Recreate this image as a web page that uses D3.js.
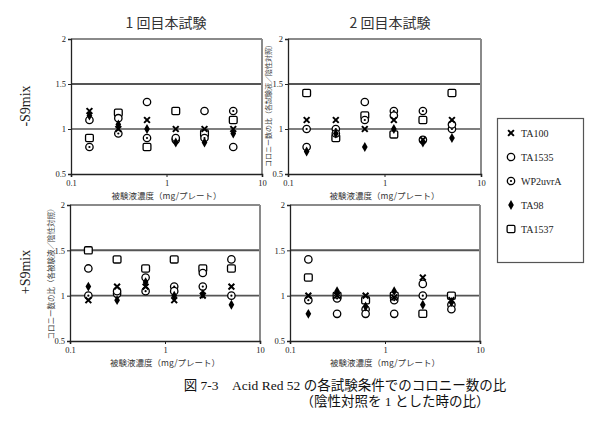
<!DOCTYPE html>
<html><head><meta charset="utf-8">
<script src="https://cdn.jsdelivr.net/npm/d3@7"></script>
<style>body{margin:0;background:#fff}svg{display:block}</style>
</head><body><svg id="c" width="600" height="425"></svg>
<script>
// ---- data ----
const doses = [0.156, 0.313, 0.625, 1.25, 2.5, 5];
const strains = ["TA100", "TA1535", "WP2uvrA", "TA98", "TA1537"];
const xTicks = [0.1, 1, 10];
const xTickLabels = ["0.1", "1", "10"];
const yTicks = [0.5, 1, 1.5, 2];
const yTickLabels = ["0.5", "1", "1.5", "2"];
const colTitles = ["1 回目本試験", "2 回目本試験"];
const rowTitles = ["-S9mix", "+S9mix"];
const xTitle = "被験液濃度（mg/プレート）";
const yTitleTop = "コロニー数の比（各試験液／陰性対照）";
const yTitleBottom = "コロニー数の比（各被験液／陰性対照）";
const captionLine1 = "図 7-3　Acid Red 52 の各試験条件でのコロニー数の比";
const captionLine2 = "（陰性対照を 1 とした時の比）";

// rows follow `strains` order: TA100, TA1535, WP2uvrA, TA98, TA1537
const minusS9Run1 = [
  [1.2, 1.0, 1.1, 1.0, 1.0, 1.0],
  [1.1, 1.12, 1.3, 0.9, 1.2, 0.8],
  [0.8, 0.95, 0.9, 0.88, 0.9, 1.2],
  [1.15, 1.05, 1.0, 0.85, 0.85, 0.95],
  [0.9, 1.18, 0.8, 1.2, 0.95, 1.1]
];
const minusS9Run2 = [
  [1.1, 1.1, 1.0, 1.1, 0.88, 1.1],
  [0.8, 0.95, 1.3, 1.15, 0.88, 1.05],
  [1.0, 1.0, 1.1, 1.2, 1.2, 1.0],
  [0.75, 0.95, 0.8, 1.0, 0.85, 0.9],
  [1.4, 0.9, 1.15, 0.94, 1.1, 1.4]
];
const plusS9Run1 = [
  [0.95, 1.1, 1.1, 0.95, 1.0, 1.1],
  [1.3, 1.05, 1.2, 1.05, 1.25, 1.4],
  [1.0, 1.02, 1.05, 1.1, 1.1, 1.0],
  [1.1, 0.95, 1.15, 1.0, 1.02, 0.9],
  [1.5, 1.4, 1.3, 1.4, 1.3, 1.3]
];
const plusS9Run2 = [
  [1.0, 1.0, 1.0, 0.98, 1.2, 0.95],
  [1.4, 0.8, 0.8, 0.8, 1.13, 0.85],
  [0.95, 0.97, 0.85, 0.95, 1.0, 0.9],
  [0.8, 1.05, 0.88, 1.05, 0.9, 0.93],
  [1.2, 1.0, 0.95, 1.0, 0.8, 1.0]
];

// ---- layout ----
const FONT = "'Liberation Serif','Noto Sans CJK JP',serif";
const CJK = "'Noto Sans CJK JP','Liberation Serif',sans-serif";
const svg = d3.select("#c");

const panels = [
  {data: minusS9Run1, x0: 71, x1: 262, y0: 39, y1: 174},
  {data: minusS9Run2, x0: 288, x1: 481, y0: 39, y1: 174},
  {data: plusS9Run1, x0: 70, x1: 260, y0: 205, y1: 341},
  {data: plusS9Run2, x0: 290, x1: 480, y0: 205, y1: 341}
];

function drawMarker(g, strain, cx, cy) {
  if (strain === "TA100") {
    const s = 2.9;
    g.append("path").attr("d", `M${cx-s},${cy-s}L${cx+s},${cy+s}M${cx-s},${cy+s}L${cx+s},${cy-s}`)
      .attr("stroke", "#000").attr("stroke-width", 2).attr("fill", "none");
  } else if (strain === "TA1535") {
    g.append("circle").attr("cx", cx).attr("cy", cy).attr("r", 3.7)
      .attr("fill", "#fff").attr("stroke", "#000").attr("stroke-width", 1.3);
  } else if (strain === "WP2uvrA") {
    g.append("circle").attr("cx", cx).attr("cy", cy).attr("r", 3.7)
      .attr("fill", "#fff").attr("stroke", "#000").attr("stroke-width", 1.3);
    g.append("circle").attr("cx", cx).attr("cy", cy).attr("r", 1.1).attr("fill", "#000");
  } else if (strain === "TA98") {
    g.append("path").attr("transform", `translate(${cx},${cy})`)
      .attr("d", d3.symbol(d3.symbolDiamond, 28)()).attr("fill", "#000");
  } else {
    g.append("rect").attr("x", cx - 3.9).attr("y", cy - 3.6).attr("width", 7.8).attr("height", 7.2)
      .attr("rx", 1.3).attr("fill", "#fff").attr("stroke", "#000").attr("stroke-width", 1.3);
  }
}

const drawOrder = ["TA1537", "WP2uvrA", "TA1535", "TA98", "TA100"];

panels.forEach(p => {
  const x = d3.scaleLog().domain([0.1, 10]).range([p.x0, p.x1]);
  const y = d3.scaleLinear().domain([0.5, 2]).range([p.y1, p.y0]);
  const g = svg.append("g");

  [1, 1.5].forEach(v => {
    g.append("line").attr("x1", p.x0).attr("x2", p.x1).attr("y1", y(v)).attr("y2", y(v))
      .attr("stroke", "#555").attr("stroke-width", v === 1.5 ? 2 : 1.6);
  });
  g.append("line").attr("x1", p.x0).attr("x2", p.x1).attr("y1", p.y0).attr("y2", p.y0)
    .attr("stroke", "#8a8a8a").attr("stroke-width", 2);
  g.append("line").attr("x1", p.x1).attr("x2", p.x1).attr("y1", p.y0).attr("y2", p.y1)
    .attr("stroke", "#8a8a8a").attr("stroke-width", 2);

  const yAxis = d3.axisLeft(y).tickValues(yTicks).tickFormat((d, i) => yTickLabels[i]).tickSize(3).tickPadding(2);
  const ya = g.append("g").attr("transform", `translate(${p.x0},0)`).call(yAxis);
  const xAxis = d3.axisBottom(x).tickValues(xTicks).tickFormat((d, i) => xTickLabels[i]).tickSize(3).tickPadding(3);
  const xa = g.append("g").attr("transform", `translate(0,${p.y1})`).call(xAxis);
  [ya, xa].forEach(a => {
    a.selectAll("text").attr("font-family", FONT).attr("font-size", 8.5).attr("fill", "#222");
    a.selectAll("line").attr("stroke", "#222");
  });
  ya.select(".domain").attr("stroke", "#222").attr("stroke-width", 1.3);
  xa.select(".domain").attr("stroke", "#222").attr("stroke-width", 1.6);

  g.append("text").attr("x", (p.x0 + p.x1) / 2).attr("y", p.y1 + 25)
    .attr("text-anchor", "middle").attr("font-family", CJK).attr("font-size", 8.5)
    .attr("fill", "#333").text(xTitle);

  drawOrder.forEach(s => {
    const si = strains.indexOf(s);
    p.data[si].forEach((v, i) => drawMarker(g, s, x(doses[i]), y(v)));
  });
});

// column titles
[[166, colTitles[0]], [390, colTitles[1]]].forEach(([cx, t]) => {
  svg.append("text").attr("x", cx).attr("y", 28).attr("text-anchor", "middle")
    .attr("font-family", CJK).attr("font-size", 14).attr("fill", "#333").text(t);
});

// row titles
[[30, 106, rowTitles[0]], [30, 272, rowTitles[1]]].forEach(([cx, cy, t]) => {
  svg.append("text").attr("transform", `translate(${cx},${cy}) rotate(-90)`)
    .attr("text-anchor", "middle").attr("font-family", FONT).attr("font-size", 14)
    .attr("fill", "#222").text(t);
});

// y-axis titles
svg.append("text").attr("transform", "translate(271,104) rotate(-90)")
  .attr("text-anchor", "middle").attr("font-family", CJK).attr("font-size", 7)
  .attr("fill", "#444").text(yTitleTop);
svg.append("text").attr("transform", "translate(54,272) rotate(-90)")
  .attr("text-anchor", "middle").attr("font-family", CJK).attr("font-size", 7.5)
  .attr("fill", "#444").text(yTitleBottom);

// legend
const lg = svg.append("g");
lg.append("rect").attr("x", 497.5).attr("y", 118.5).attr("width", 86).attr("height", 144)
  .attr("fill", "none").attr("stroke", "#555").attr("stroke-width", 1.2);
strains.forEach((s, i) => {
  const cy = 133 + i * 24;
  drawMarker(lg, s, 511, cy);
  lg.append("text").attr("x", 521).attr("y", cy + 3.5).attr("font-family", FONT)
    .attr("font-size", 10).attr("fill", "#222").text(s);
});

// caption
svg.append("text").attr("x", 345).attr("y", 390).attr("text-anchor", "middle")
  .attr("font-family", FONT).attr("font-size", 13.5).attr("fill", "#111").text(captionLine1);
svg.append("text").attr("x", 395).attr("y", 406).attr("text-anchor", "middle")
  .attr("font-family", FONT).attr("font-size", 13.5).attr("fill", "#111").text(captionLine2);
</script>
</body></html>
